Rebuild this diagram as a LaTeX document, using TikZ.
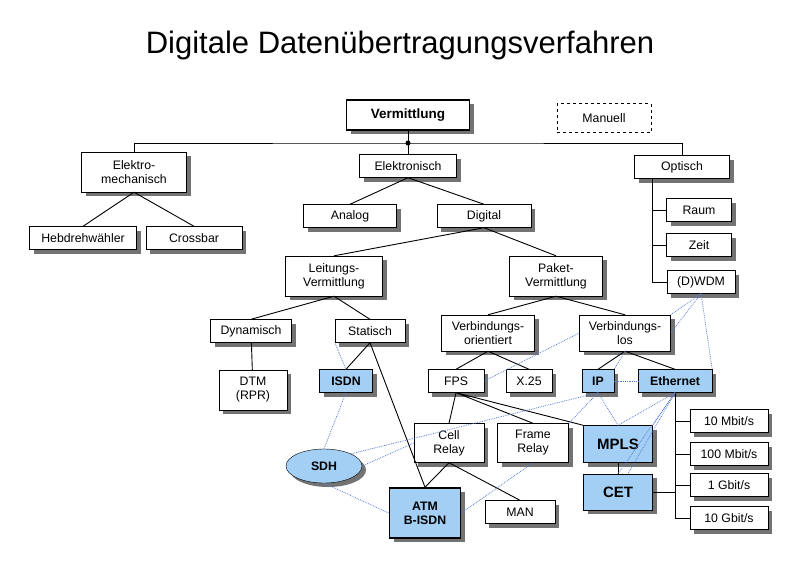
\documentclass[tikz,border=0pt]{standalone}
\usepackage{fontspec}
\setmainfont{Liberation Sans}
\usetikzlibrary{shapes.geometric,shadows}
\definecolor{lb}{HTML}{A3CFF5}
\definecolor{dlb}{HTML}{5A7FD6}
\begin{document}
\begin{tikzpicture}[x=1pt,y=-1pt,
 box/.style={draw,fill=white,minimum height=23pt,align=center,inner sep=1pt,font=\fontsize{12.3}{14}\selectfont,
   drop shadow={shadow xshift=4pt,shadow yshift=-4pt,fill=black!55,opacity=1}},
 blue/.style={fill=lb},
 bf/.style={font=\fontsize{12.3}{14}\selectfont\bfseries},
 dl/.style={densely dotted,dlb,line width=0.8pt},
 ln/.style={line width=0.9pt}]
\useasboundingbox (0,0) rectangle (800,565);
\node[font=\fontsize{31}{36}\selectfont] (title) at (400,45) {Digitale Datenübertragungsverfahren};
\node[box,line width=1.3pt,minimum width=123pt,minimum height=30pt,font=\fontsize{13.5}{15}\selectfont\bfseries] (verm) at (408,115) {Vermittlung};
\node[draw,dashed,minimum width=94pt,minimum height=29pt,font=\fontsize{12.3}{14}\selectfont] (man0) at (604,118) {Manuell};
\node[box,minimum width=105pt,minimum height=40pt] (em) at (134,172) {Elektro-\\mechanisch};
\node[box,minimum width=97pt] (el) at (408,166) {Elektronisch};
\node[box,minimum width=95pt] (opt) at (682,167) {Optisch};
\node[box,minimum width=107pt] (heb) at (83,238) {Hebdrehwähler};
\node[box,minimum width=96pt] (cross) at (194,238) {Crossbar};
\node[box,minimum width=93pt] (ana) at (350,216) {Analog};
\node[box,minimum width=94pt] (dig) at (484,216) {Digital};
\node[box,minimum width=65pt] (raum) at (699,210) {Raum};
\node[box,minimum width=65pt] (zeit) at (699,245) {Zeit};
\node[box,minimum width=68pt] (dwdm) at (701,282) {(D)WDM};
\node[box,minimum width=97pt,minimum height=40pt] (leit) at (334,276) {Leitungs-\\Vermittlung};
\node[box,minimum width=93pt,minimum height=40pt] (pak) at (556,276) {Paket-\\Vermittlung};
\node[box,minimum width=81pt] (dyn) at (251,331) {Dynamisch};
\node[box,minimum width=70pt] (stat) at (370,331) {Statisch};
\node[box,minimum width=93pt,minimum height=36pt] (vo) at (488,333) {Verbindungs-\\orientiert};
\node[box,minimum width=91pt,minimum height=36pt] (vl) at (625,333) {Verbindungs-\\los};
\node[box,minimum width=68pt,minimum height=40pt] (dtm) at (253,390) {DTM\\(RPR)};
\node[box,blue,bf,minimum width=53pt] (isdn) at (346,381) {ISDN};
\node[box,minimum width=56pt] (fps) at (456,381) {FPS};
\node[box,minimum width=46pt] (x25) at (529,381) {X.25};
\node[box,blue,bf,minimum width=32pt] (ip) at (598,381) {IP};
\node[box,blue,bf,minimum width=74pt] (eth) at (675,381) {Ethernet};
\node[box,minimum width=70pt,minimum height=39pt] (cell) at (449,443) {Cell\\Relay};
\node[box,minimum width=71pt,minimum height=39pt] (frame) at (533,443) {Frame\\Relay};
\node[box,blue,minimum width=69pt,minimum height=37pt,font=\fontsize{15}{17}\selectfont\bfseries] (mpls) at (618,444) {MPLS};
\node[box,blue,minimum width=69pt,minimum height=36pt,font=\fontsize{15}{17}\selectfont\bfseries] (cet) at (618,492) {CET};
\node[box,blue,bf,ellipse,minimum width=76pt,minimum height=34pt] (sdh) at (324,466) {SDH};
\node[box,blue,bf,line width=1.6pt,minimum width=71pt,minimum height=50pt] (atm) at (425,513) {ATM\\B-ISDN};
\node[box,minimum width=70pt] (man) at (520,512) {MAN};
\node[box,minimum width=78pt] (m10) at (729,421) {10 Mbit/s};
\node[box,minimum width=78pt] (m100) at (729,454) {100 Mbit/s};
\node[box,minimum width=78pt] (g1) at (729,485) {1 Gbit/s};
\node[box,minimum width=78pt] (g10) at (729,518) {10 Gbit/s};
% tree
\coordinate (dot) at (408,143);
\fill (dot) circle (2.5pt);
\draw[ln] (verm) -- (dot);
\draw[ln] (em.north) |- (dot) -| (opt.north);
\draw[ln] (dot) -- (el);
\draw[ln] (em.south) -- (heb.north) (em.south) -- (cross.north);
\draw[ln] (el.south) -- (ana.north) (el.south) -- (dig.north);
\coordinate (ov) at (652,282);
\draw[ln] (opt.south -| ov) -- (ov) -- (dwdm.west);
\draw[ln] (raum.west) -- (raum.west -| ov) (zeit.west) -- (zeit.west -| ov);
\draw[ln] (dig.south) -- (leit.north) (dig.south) -- (pak.north);
\draw[ln] (leit.south) -- (dyn.north) (leit.south) -- (stat.north);
\draw[ln] (pak.south) -- (vo.north) (pak.south) -- (vl.north);
\draw[ln] (dyn) -- (dtm);
\draw[ln] (stat.south) -- (isdn.north);
\draw[ln] (stat.south) -- (atm.north);
\draw[ln] (vo.south) -- (fps.north) (vo.south) -- (x25.north);
\draw[ln] (vl.south) -- (ip.north) (vl.south) -- (eth.north);
\draw[ln] (fps.south) -- (cell.north) (fps.south) -- (frame.north) (fps.south) -- (mpls.north west);
\draw[ln] (cell.south) -- (atm.north) (cell.south) -- (man.north);
\draw[ln] (mpls) -- (cet);
\coordinate (ev) at (675,518);
\draw[ln] (eth.south) -- (ev) -- (g10.west);
\draw[ln] (m10.west) -- (m10.west -| ev) (m100.west) -- (m100.west -| ev) (g1.west) -- (g1.west -| ev);
\draw[ln] (cet.east) -- (cet.east -| ev);
% dotted relations
\draw[dl] (isdn.north) -- (stat.south west);
\draw[dl] (isdn.south) -- (sdh.north);
\draw[dl] (sdh.south) -- (atm.west);
\draw[dl] (sdh.east) -- (cell.west);
\draw[dl] (sdh.north east) -- (ip.south);
\draw[dl] (atm.east) -- (frame.south);
\draw[dl] (vl.west) -- (fps.east);
\draw[dl] (ip.south) -- (frame.north east);
\draw[dl] (ip.south) -- (mpls.north);
\draw[dl] (ip.east) -- (eth.west);
\draw[dl] (vl.south) -- (ip.north east);
\draw[dl] (eth.south) -- (mpls.north);
\draw[dl] (eth.south) -- (mpls.north east);
\draw[dl] (eth.south) -- (cet.north);
\draw[dl] (eth.south) -- ([xshift=10pt]cet.north);
\draw[dl] (dwdm.south) -- (vl.north east);
\draw[dl] (dwdm.south) -- (vl.east);
\draw[dl] (dwdm.south) -- (eth.north east);
\end{tikzpicture}
\end{document}
